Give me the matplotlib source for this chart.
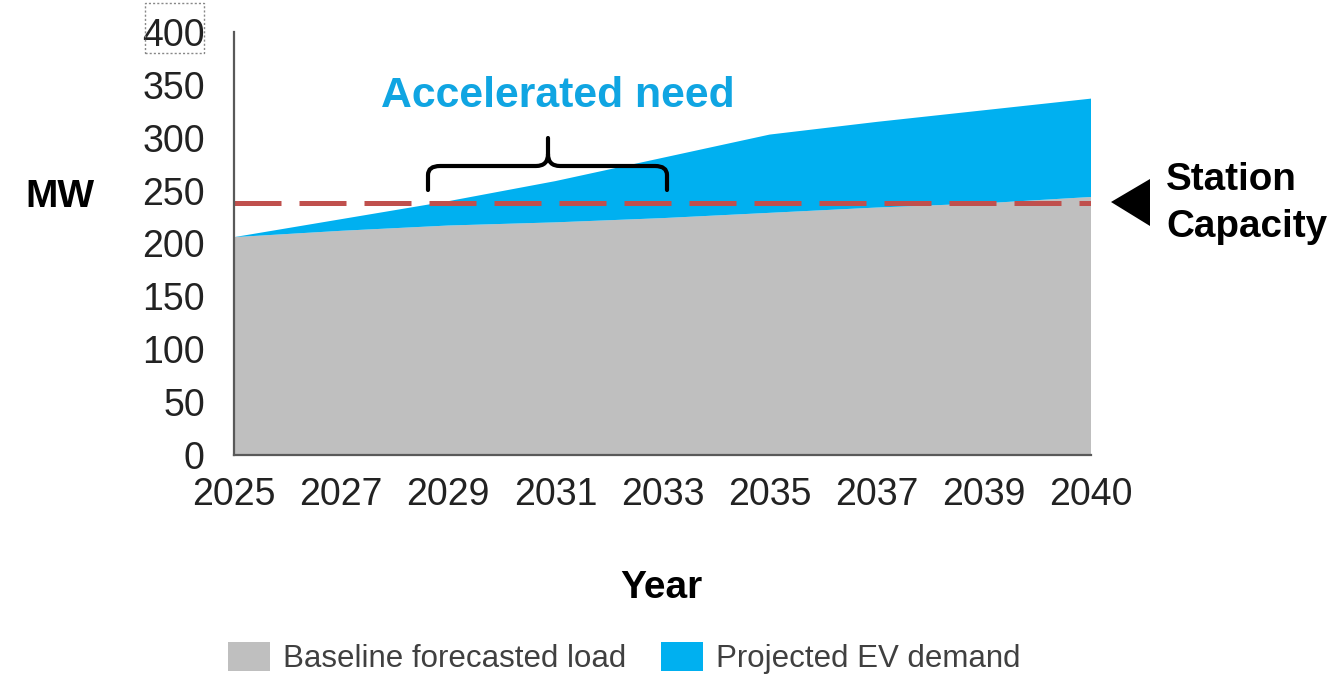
import matplotlib
matplotlib.use("Agg")
import matplotlib.pyplot as plt
from matplotlib.patches import Patch, Polygon, PathPatch, Rectangle
from matplotlib.path import Path

plt.rcParams['font.family'] = ['Liberation Sans', 'DejaVu Sans']

# data (MW)
years = ['2025', '2027', '2029', '2031', '2033', '2035', '2037', '2039', '2040']
baseline_load = [206, 212, 217, 220, 224, 229, 234, 238, 244]
ev_demand = [0, 11, 23, 39, 57, 74, 81, 88, 93]
station_capacity = 238
y_ticks = [0, 50, 100, 150, 200, 250, 300, 350, 400]

gray = '#BFBFBF'
blue = '#00B0F0'
red = '#C0504D'

W, H = 1329, 679
fig = plt.figure(figsize=(W / 100, H / 100), dpi=100)


def px(x, y):
    # figure pixel -> figure fraction
    return (x / W, 1 - y / H)


ax = fig.add_axes([234 / W, 1 - 455 / H, (1091 - 234) / W, (455 - 32) / H])

x = list(range(len(years)))
ax.stackplot(x, baseline_load, ev_demand, colors=[gray, blue], linewidth=0)
ax.plot([x[0], x[-1]], [station_capacity, station_capacity], color=red,
        lw=3.6, dashes=(9.4, 3.6), solid_capstyle='butt', dash_capstyle='butt')

ax.set_xlim(x[0], x[-1])
ax.set_ylim(0, 400)
ax.set_xticks(x)
ax.set_xticklabels(years)
ax.set_yticks(y_ticks)
ax.tick_params(axis='both', length=0, labelsize=27, colors='#222222')
ax.tick_params(axis='x', pad=16)
ax.tick_params(axis='y', pad=21)
for s in ['top', 'right']:
    ax.spines[s].set_visible(False)
for s in ['left', 'bottom']:
    ax.spines[s].set_color('#595959')
    ax.spines[s].set_linewidth(1.6)
    ax.spines[s].set_zorder(5)

# dotted selection box around the top label
x0, y0 = px(145, 53)
x1, y1 = px(204, 3)
fig.patches.append(Rectangle((x0, y0), x1 - x0, y1 - y0, fc='none', ec='#888888',
                             ls=(0, (1.5, 1.5)), lw=1, transform=fig.transFigure))

# curly brace over the accelerated period
def dx(p):
    return (p - 234) / 107.125


def dy(p):
    return (455 - p) / 1.0575


verts = [
    (dx(428), dy(190)), (dx(428), dy(175)),
    (dx(428), dy(166)), (dx(440), dy(166)),
    (dx(536), dy(166)),
    (dx(548), dy(166)), (dx(548), dy(154)),
    (dx(548), dy(138)),
    (dx(548), dy(154)),
    (dx(548), dy(166)), (dx(560), dy(166)),
    (dx(655), dy(166)),
    (dx(667), dy(166)), (dx(667), dy(175)),
    (dx(667), dy(190)),
]
codes = [Path.MOVETO, Path.LINETO,
         Path.CURVE3, Path.CURVE3,
         Path.LINETO,
         Path.CURVE3, Path.CURVE3,
         Path.LINETO,
         Path.MOVETO,
         Path.CURVE3, Path.CURVE3,
         Path.LINETO,
         Path.CURVE3, Path.CURVE3,
         Path.LINETO]
ax.add_patch(PathPatch(Path(verts, codes), fc='none', ec='black', lw=3,
                       capstyle='round', joinstyle='round', zorder=6))

# texts
fig.text(*px(381, 107), 'Accelerated need', color='#10A5E2', fontsize=30.8,
         fontweight='bold', ha='left', va='baseline')
fig.text(*px(60, 207), 'MW', fontsize=28, fontweight='bold', ha='center', va='baseline')
fig.text(*px(661, 598), 'Year', fontsize=28, fontweight='bold', ha='center', va='baseline')
fig.text(*px(1166, 190), 'Station', fontsize=27.8, fontweight='bold', ha='left', va='baseline')
fig.text(*px(1166, 237), 'Capacity', fontsize=27.8, fontweight='bold', ha='left', va='baseline')

# station capacity pointer
fig.patches.append(Polygon([px(1111, 202), px(1150, 179), px(1150, 226)], closed=True,
                           fc='black', ec='none', transform=fig.transFigure))

# legend
handles = [Patch(fc=gray, ec='none', label='Baseline forecasted load'),
           Patch(fc=blue, ec='none', label='Projected EV demand')]
fig.legend(handles=handles, loc='center left', bbox_to_anchor=px(228, 658),
           ncol=2, frameon=False, fontsize=22.5, labelcolor='#404040',
           handlelength=1.35, handleheight=1.05, handletextpad=0.42,
           columnspacing=1.09, borderpad=0, borderaxespad=0)

fig.savefig('out.png', dpi=100)
